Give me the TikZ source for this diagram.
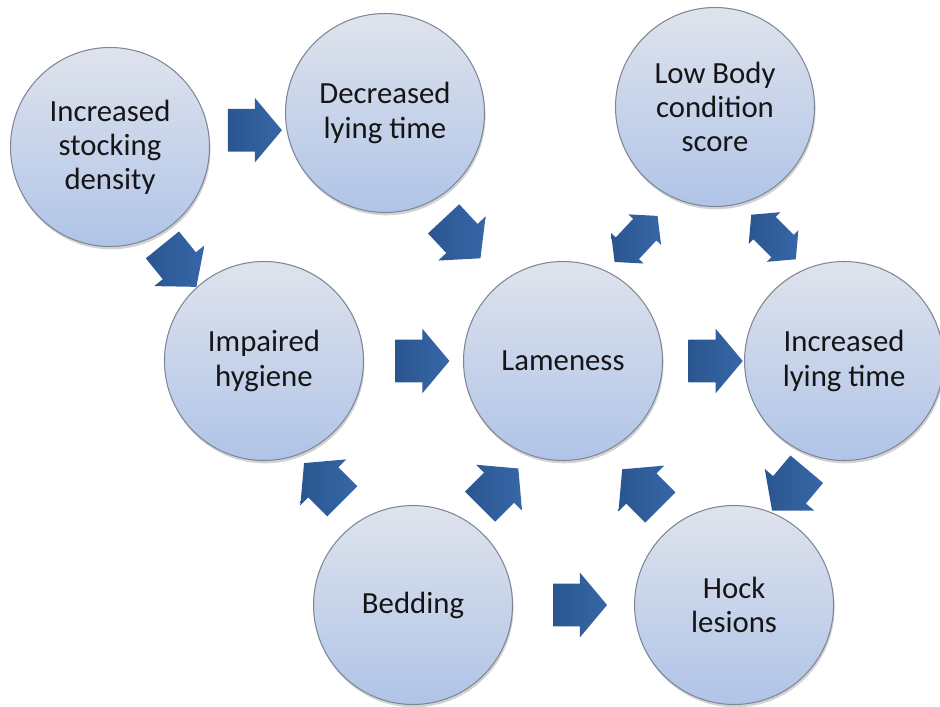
\documentclass[tikz,border=0pt]{standalone}
\usepackage{fontspec}
\setmainfont{Carlito}
\usepackage{xcolor}
\usetikzlibrary{positioning,shapes.arrows,shadows}
\definecolor{cwInk}{HTML}{151515}
\definecolor{cwTop}{HTML}{DFE3EC}
\definecolor{cwBottom}{HTML}{B0C4E8}
\definecolor{cwLine}{HTML}{7D8797}
\definecolor{cwArrowDark}{HTML}{2A568F}
\definecolor{cwArrowLight}{HTML}{3767A8}
\tikzset{
  % Factor circle (light blue gradient)
  factor/.style={circle,minimum size=3.98cm,inner sep=0pt,
    align=center,top color=cwTop,bottom color=cwBottom,
    draw=cwLine,line width=0.6pt,
    font=\fontsize{17.5}{19.4}\selectfont,text=cwInk,
    drop shadow={shadow xshift=0.6pt,shadow yshift=-1.6pt,
      opacity=0.25,fill=black!70}},
  % Block arrow (one head)
  barrow/.style={single arrow,draw=none,inner sep=0pt,
    minimum height=1.08cm,text height=0.42cm,text depth=0.42cm,
    single arrow head extend=0.22cm,single arrow tip angle=100,
    left color=cwArrowDark,right color=cwArrowLight},
  % Block arrow (two heads)
  dbarrow/.style={double arrow,draw=none,inner sep=0pt,
    minimum height=1.26cm,text height=0.31cm,text depth=0.31cm,
    double arrow head extend=0.13cm,double arrow tip angle=100,
    left color=cwArrowDark,right color=cwArrowLight},
}

\begin{document}
\begin{tikzpicture}
  \useasboundingbox (0,0) rectangle (18.8,-14.12);

  % Top row
  \node[factor] (stock) at (2.20,-2.94) {Increased\\stocking\\density};
  \node[factor] (dlt) at (7.70,-2.26) {Decreased\\lying time};
  \node[factor] (lbcs) at (14.30,-2.14) {Low Body\\condition\\score};

  % Middle row
  \node[factor] (lame) at (11.26,-7.22) {Lameness};
  \node[factor,left=1.98cm of lame] (hyg) {Impaired\\hygiene};
  \node[factor,right=1.62cm of lame] (ilt) {Increased\\lying time};

  % Bottom row
  \node[factor] (bed) at (8.26,-12.10) {Bedding};
  \node[factor,right=2.42cm of bed] (hock) {Hock\\lesions};

  % Block arrows
  \path (stock) -- node[barrow,pos=.48] (a1) {} (dlt);
  \path (stock) -- node[barrow,pos=.44,xshift=-0.22cm,yshift=-0.16cm,rotate=-51] (a2) {} (hyg);
  \path (dlt) -- node[barrow,pos=.36,xshift=-0.19cm,yshift=-0.14cm,rotate=-47] (a3) {} (lame);
  \path (hyg) -- node[barrow] (a4) {} (lame);
  \path (lame) -- node[barrow,pos=.54] (a5) {} (ilt);
  \path (ilt) -- node[barrow,pos=.46,xshift=0.1cm,yshift=-0.05cm,rotate=-130] (a8) {} (hock);
  \path (hock) -- node[barrow,pos=.41,xshift=-0.12cm,yshift=-0.09cm,rotate=135] (a9) {} (lame);
  \path (bed) -- node[barrow,pos=.42,xshift=0.17cm,yshift=-0.1cm,rotate=45] (a10) {} (lame);
  \path (bed) -- node[barrow,pos=.5,xshift=-0.18cm,yshift=-0.11cm,rotate=135] (a11) {} (hyg);
  \path (bed) -- node[barrow,pos=.48] (a12) {} (hock);

  % Two-way arrows round the body condition score
  \path (lame) -- node[dbarrow,pos=.44,rotate=47] (a6) {} (lbcs);
  \path (lbcs) -- node[dbarrow,pos=.5,xshift=-0.12cm,yshift=-0.06cm,rotate=-45] (a7) {} (ilt);
\end{tikzpicture}
\end{document}
